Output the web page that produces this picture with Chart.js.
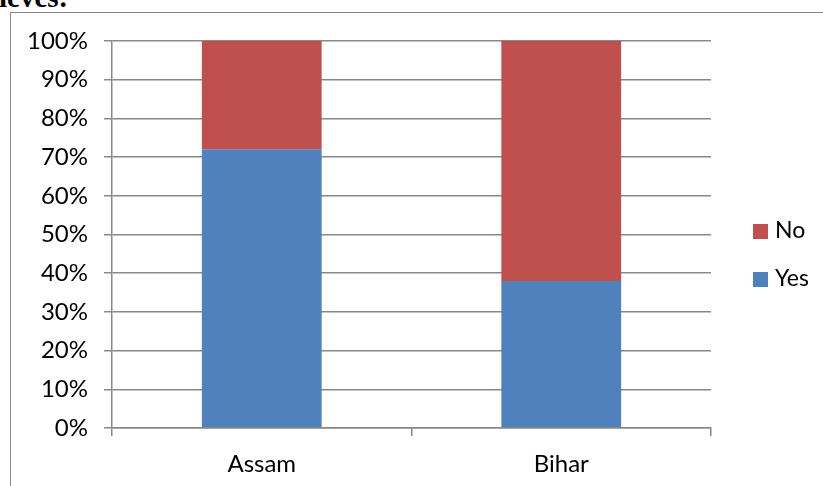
<!DOCTYPE html>
<html>
<head>
<meta charset="utf-8">
<script src="https://cdn.jsdelivr.net/npm/chart.js@4"></script>
<style>
  html, body { margin: 0; padding: 0; background: #fff; }
  body { width: 823px; height: 486px; position: relative; overflow: hidden; }
  #head { position: absolute; left: -1px; top: -17px; font: bold 29px "Liberation Serif", serif; line-height: 29px; }
  #frame { position: absolute; left: 10px; top: 12px; width: 830px; height: 500px; border: 1.5px solid #8a8a8a; }
  #wrap { position: absolute; left: 0; top: 0; width: 823px; height: 486px; }
  .leg { position: absolute; left: 753px; font: 23px Lato, sans-serif; line-height: 23px; }
  .leg span { display: inline-block; width: 15px; height: 15px; margin-right: 7px; vertical-align: -1px; }
</style>
</head>
<body>
<div id="head">ieves:</div>
<div id="frame"></div>
<div id="wrap"><canvas id="myChart" width="823" height="486"></canvas></div>
<div class="leg" style="top:218px"><span style="background:#C0504D"></span>No</div>
<div class="leg" style="top:266px"><span style="background:#4F81BD"></span>Yes</div>
<script>
const categories = ['Assam', 'Bihar'];
const yesValues = [72, 38];
const noValues = [28, 62];
const yTicks = [0, 10, 20, 30, 40, 50, 60, 70, 80, 90, 100];

(() => {
    const ctx = document.getElementById('myChart').getContext('2d');
    const grey = '#888888';
    const font = { family: 'Lato, sans-serif', size: 24 };

    new Chart(ctx, {
        type: 'bar',
        data: {
            labels: categories,
            datasets: [
                { label: 'Yes', data: yesValues, backgroundColor: '#4F81BD', barPercentage: 0.4, categoryPercentage: 1 },
                { label: 'No', data: noValues, backgroundColor: '#C0504D', barPercentage: 0.4, categoryPercentage: 1 }
            ]
        },
        options: {
            responsive: false,
            animation: false,
            layout: { padding: { top: 41, right: 112, bottom: 0, left: 0 } },
            plugins: { legend: { display: false }, tooltip: { enabled: false } },
            scales: {
                x: {
                    stacked: true,
                    afterFit: (s) => { s.height = 58; },
                    grid: { offset: true, drawOnChartArea: false, drawTicks: true, tickLength: 8, color: grey, lineWidth: 1.5 },
                    border: { color: grey, width: 1.5 },
                    ticks: { color: '#000', font: font, padding: 14 }
                },
                y: {
                    stacked: true,
                    min: 0,
                    max: 100,
                    afterFit: (s) => { s.width = 112; },
                    afterBuildTicks: (s) => { s.ticks = yTicks.map(v => ({ value: v })); },
                    grid: { color: grey, lineWidth: 1.5, tickLength: 8 },
                    border: { color: grey, width: 1.5 },
                    ticks: { color: '#000', font: font, padding: 16, callback: (v) => v + '%' }
                }
            }
        }
    });
})();
</script>
</body>
</html>
